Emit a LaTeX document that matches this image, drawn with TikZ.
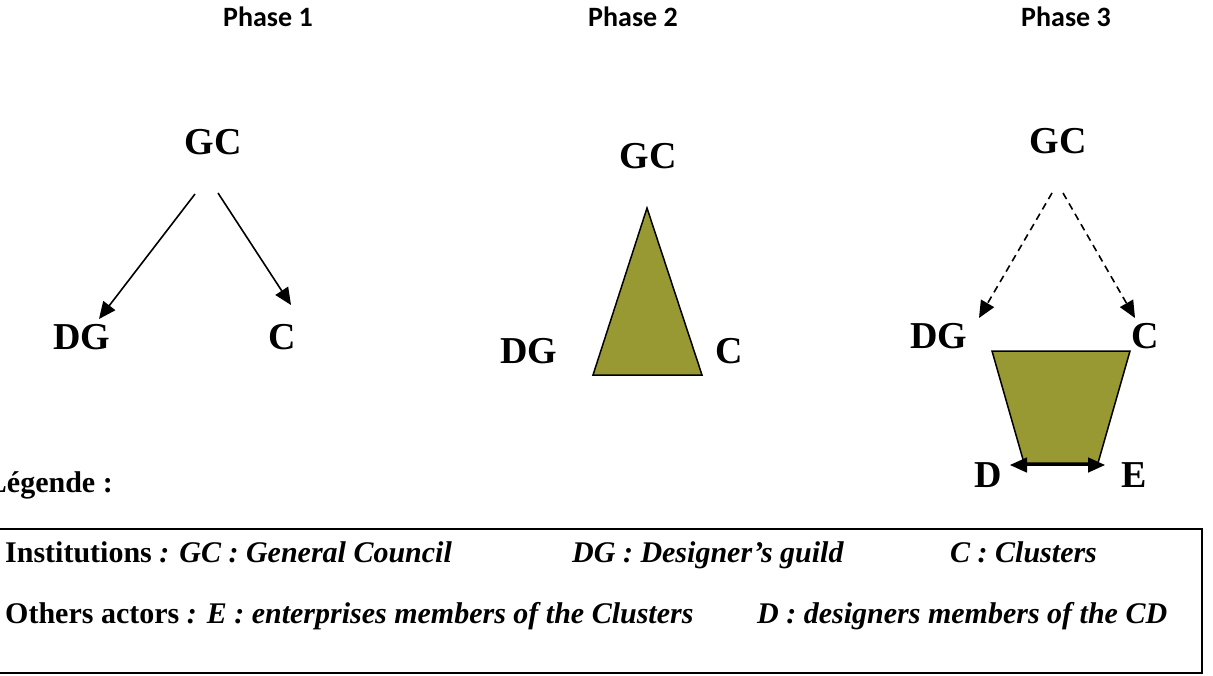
\documentclass[tikz,border=0pt]{standalone}
\usepackage{fontspec}
\setmainfont{Liberation Serif}
\newfontfamily\phasefont{Carlito}
\usetikzlibrary{arrows.meta}

\definecolor{olivefill}{RGB}{153,153,51}

\tikzset{
  actor/.style={inner sep=0pt, anchor=base, font=\fontsize{38}{40}\selectfont\bfseries},
  phase/.style={inner sep=0pt, anchor=base, font=\fontsize{28}{30}\selectfont\phasefont\bfseries},
  legend/.style={inner sep=0pt, anchor=base west, font=\fontsize{30}{32}\selectfont\bfseries},
  tip/.tip={Triangle[length=17pt,width=15pt]},
  link/.style={line width=1.6pt, -tip},
  weaklink/.style={link, dash pattern=on 7pt off 5pt},
  stage/.style={line width=1.5pt, fill=olivefill, line join=miter}
}

\begin{document}
\begin{tikzpicture}[x=1pt,y=-1pt]
      \clip (0,0) rectangle (1213,675);

      % titles
      \node[phase] (ph1) at (268,26) {Phase 1};
      \node[phase] (ph2) at (633,26) {Phase 2};
      \node[phase] (ph3) at (1066,26) {Phase 3};

      % phase 1
      \node[actor] (gc1) at (213,154) {GC};
      \node[actor] (dg1) at (82,349) {DG};
      \node[actor] (c1)  at (282,349) {C};
      \coordinate (gc1l) at (195,194);
      \coordinate (gc1r) at (218,193);
      \coordinate (dg1t) at (99,319);
      \coordinate (c1t)  at (291,305);
      \draw[link] (gc1l) -- (dg1t);
      \draw[link] (gc1r) -- (c1t);

      % phase 2
      \node[actor] (gc2) at (648,168) {GC};
      \node[actor] (dg2) at (529,363) {DG};
      \node[actor] (c2)  at (729,363) {C};
      \draw[stage] (647,208) -- (702,375) -- (593,375) -- cycle;

      % phase 3
      \node[actor] (gc3) at (1058,153) {GC};
      \node[actor] (dg3) at (939,348) {DG};
      \node[actor] (c3)  at (1145,348) {C};
      \node[actor] (d3)  at (988,487) {D};
      \node[actor] (e3)  at (1134,487) {E};
      \coordinate (gc3l) at (1052,193);
      \coordinate (gc3r) at (1063,193);
      \coordinate (dg3t) at (979,318);
      \coordinate (c3t)  at (1135,318);
      \draw[weaklink] (gc3l) -- (dg3t);
      \draw[weaklink] (gc3r) -- (c3t);
      \draw[stage] (992,351) -- (1130,351) -- (1098,463) -- (1024,463) -- cycle;
      \coordinate (d3t) at (1010,465);
      \coordinate (e3t) at (1105,465);
      \draw[link, tip-tip] (d3t) -- (e3t);

      % legend
      \node[legend, anchor=base east] (leg) at (113,492) {L\'egende :};
      \draw[line width=1.5pt] (-5,529) rectangle (1202,673);
      \node[legend] (inst) at (5,562) {Institutions \textit{: GC : General Council}};
      \node[legend] (ldg)  at (572,562) {\textit{DG : Designer’s guild}};
      \node[legend] (lc)   at (950,562) {\textit{C : Clusters}};
      \node[legend] (oth)  at (5,623) {Others actors \textit{: E : enterprises members of the Clusters}};
      \node[legend] (ld)   at (757,623) {\textit{D : designers members of the CD}};
\end{tikzpicture}
\end{document}
